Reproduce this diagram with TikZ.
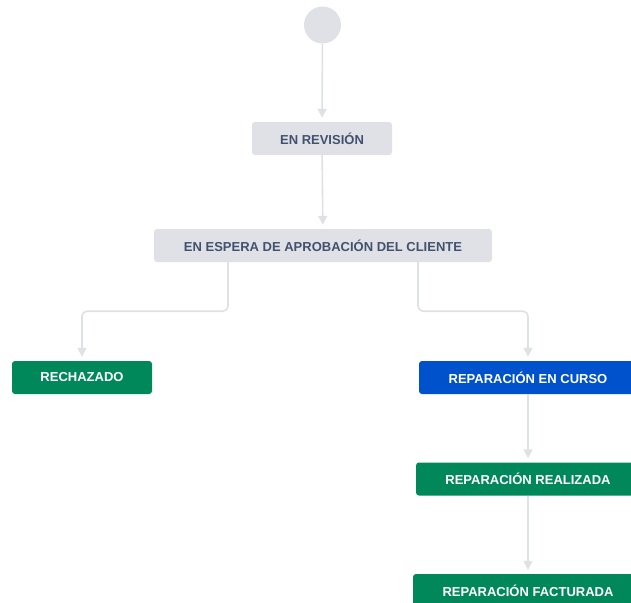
\documentclass[tikz,border=0pt]{standalone}
\usepackage{fontspec}
\newfontfamily\uifont{Liberation Sans}
\usetikzlibrary{arrows.meta}
\definecolor{statusgrey}{HTML}{DFE1E6}
\definecolor{statustext}{HTML}{42526E}
\definecolor{statusgreen}{HTML}{00875A}
\definecolor{statusblue}{HTML}{0052CC}
\definecolor{flowgrey}{HTML}{DFE1E6}
\begin{document}
\begin{tikzpicture}
    [
    x=1pt,y=-1pt,
    state/.style={rectangle,rounded corners=3pt,minimum height=33pt,inner sep=0pt,
      font=\uifont\fontsize{13}{15}\selectfont\bfseries},
    todo/.style={fill=statusgrey,text=statustext},
    done/.style={fill=statusgreen,text=white},
    doing/.style={fill=statusblue,text=white},
    start/.style={circle,fill=statusgrey,minimum size=37pt,inner sep=0pt},
    flow/.style={draw=flowgrey,line width=1.6pt,rounded corners=5pt,
      -{Triangle[width=9pt,length=9pt]},shorten >=4pt}
    ]
    \useasboundingbox (0,0) rectangle (631,602);
    \node (inicio) at (322.5,25) [start] {};
    \node (revision) at (322,138.5) [state,todo,minimum width=140pt] {EN REVISIÓN};
    \node (espera) at (323,245.5) [state,todo,minimum width=338pt] {EN ESPERA DE APROBACIÓN DEL CLIENTE};
    \node (rechazado) at (82,377.5) [state,done,minimum width=140pt] {RECHAZADO};
    \node (curso) at (528,377.5) [state,doing,minimum width=218pt] {REPARACIÓN EN CURSO};
    \node (realizada) at (528,479) [state,done,minimum width=224pt] {REPARACIÓN REALIZADA};
    \node (facturada) at (528,590.5) [state,done,minimum width=230pt] {REPARACIÓN FACTURADA};
    \draw [flow] (inicio) to (revision);
    \draw [flow] (revision) to (espera);
    \draw [flow] ([xshift=-95pt]espera.south) -- ++(0,49) -| (rechazado.north);
    \draw [flow] ([xshift=95pt]espera.south) -- ++(0,49) -| (curso.north);
    \draw [flow] (curso) to (realizada);
    \draw [flow] (realizada) to (facturada);
  \end{tikzpicture}
\end{document}
